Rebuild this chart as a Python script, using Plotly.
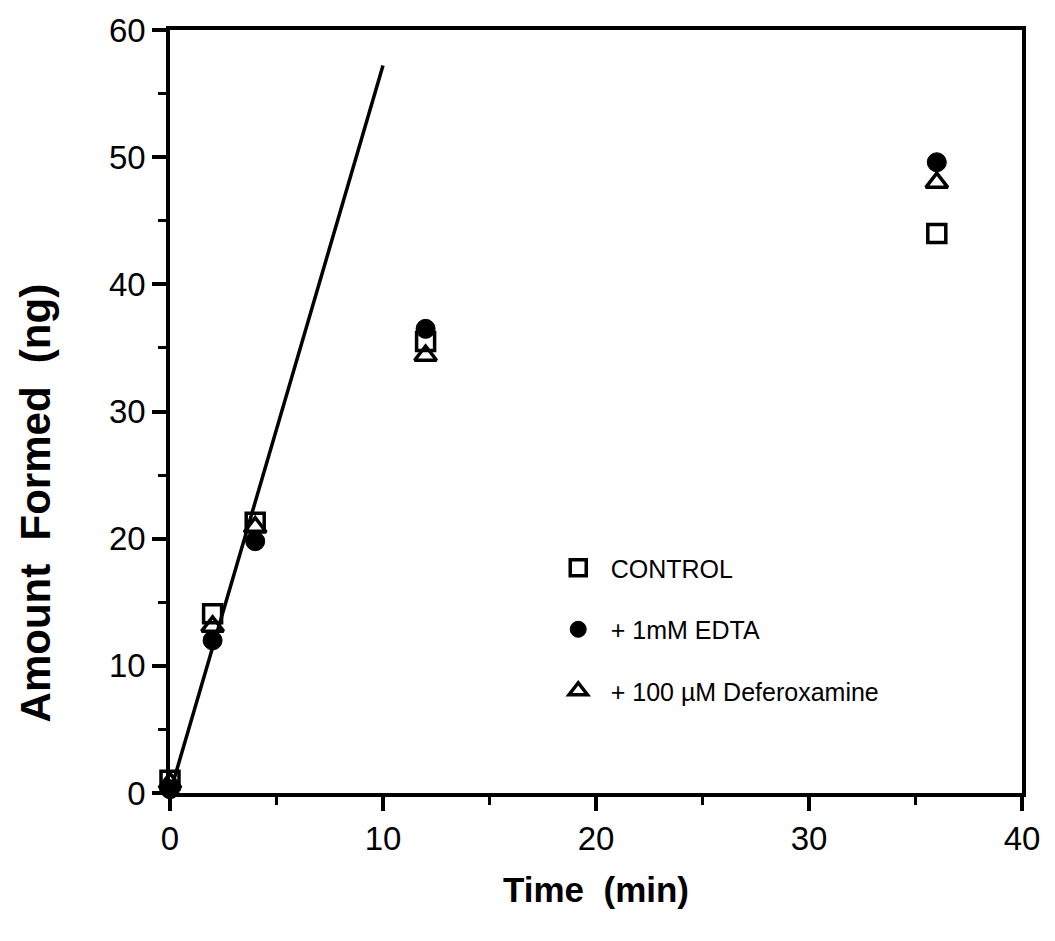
import plotly.graph_objects as go

time = [0, 2, 4, 12, 36]
control = [1.0, 14.1, 21.3, 35.5, 44.0]
edta = [0.3, 12.0, 19.8, 36.5, 49.6]
deferox = [0.8, 13.1, 20.9, 34.4, 48.0]
fit_x = [0, 10]
fit_y = [0, 57.2]

x_ticks = [0, 10, 20, 30, 40]
y_ticks = [0, 10, 20, 30, 40, 50, 60]

FONT = "Liberation Sans, Arial, sans-serif"

fig = go.Figure()
fig.add_trace(go.Scatter(x=fit_x, y=fit_y, mode="lines",
                         line=dict(color="black", width=3.5), showlegend=False,
                         cliponaxis=False))
fig.add_trace(go.Scatter(x=time, y=control, mode="markers", name="CONTROL",
                         legendgroup="a", legendrank=1,
                         marker=dict(symbol="square-open", size=18, color="black",
                                     line=dict(width=3.5, color="black")),
                         cliponaxis=False))
fig.add_trace(go.Scatter(x=time, y=deferox, mode="markers", name="+ 100 µM Deferoxamine",
                         legendgroup="c", legendrank=3,
                         marker=dict(symbol="triangle-up-open", size=19, color="black",
                                     line=dict(width=3.5, color="black")),
                         cliponaxis=False))
fig.add_trace(go.Scatter(x=time, y=edta, mode="markers", name="+ 1mM EDTA",
                         legendgroup="b", legendrank=2,
                         marker=dict(symbol="circle", size=19, color="black",
                                     line=dict(width=1, color="black")),
                         cliponaxis=False))

axis_common = dict(showline=True, linecolor="black", linewidth=3.5, mirror=True,
                   ticks="outside", ticklen=14, tickwidth=3.5, tickcolor="black",
                   showgrid=False, zeroline=False,
                   tickfont=dict(family=FONT, size=33, color="black"))

fig.update_xaxes(range=[0, 40], tickvals=x_ticks, ticktext=[str(v) for v in x_ticks],
                 minor=dict(ticks="outside", ticklen=8, tickwidth=3, tickcolor="black",
                            dtick=5, showgrid=False),
                 title=dict(text="<b>Time  (min)</b>", standoff=22,
                            font=dict(family=FONT, size=35, color="black")),
                 **axis_common)
fig.update_yaxes(range=[0, 60], tickvals=y_ticks, ticktext=[str(v) for v in y_ticks],
                 minor=dict(ticks="outside", ticklen=8, tickwidth=3, tickcolor="black",
                            dtick=5, showgrid=False),
                 **axis_common)

fig.add_annotation(text="<b>Amount  Formed  (ng)</b>", textangle=-90,
                   xref="paper", yref="paper", x=-0.158, y=0.38,
                   xanchor="center", yanchor="middle", showarrow=False,
                   font=dict(family=FONT, size=42, color="black"))

fig.update_layout(
    width=1055, height=941,
    margin=dict(l=170, r=33, t=24, b=148),
    paper_bgcolor="white", plot_bgcolor="white",
    legend=dict(x=0.441, y=0.325, xanchor="left", yanchor="top",
                traceorder="grouped", tracegroupgap=26, itemwidth=55,
                bgcolor="rgba(0,0,0,0)",
                font=dict(family=FONT, size=25, color="black")),
)

fig.write_html("out.html")
